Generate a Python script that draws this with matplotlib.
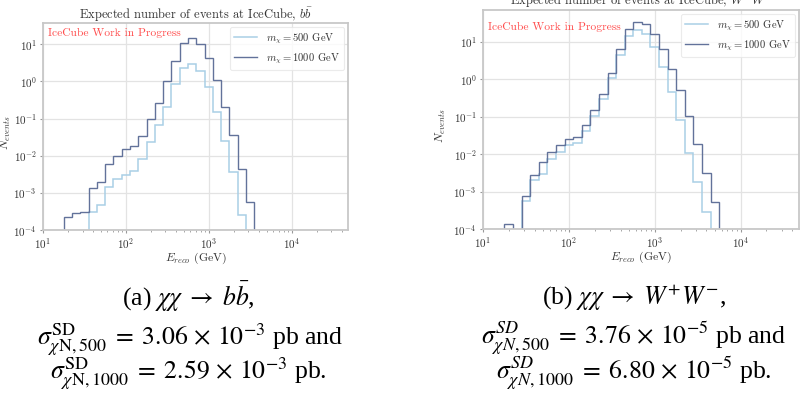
import numpy as np
import matplotlib
matplotlib.use("Agg")
import matplotlib.pyplot as plt

plt.rcParams['font.family'] = ['cmr10', 'DejaVu Serif']
plt.rcParams['mathtext.fontset'] = 'cm'
plt.rcParams['axes.formatter.use_mathtext'] = True
plt.rcParams['axes.unicode_minus'] = False

# log10 of the bin edges (0.1 decade bins)
edges_bb = 10 ** (1.25 + 0.1 * np.arange(24))
edges_ww = 10 ** (1.25 + 0.1 * np.arange(26))

# chi chi -> b bbar
bb_1000 = [2.3e-4, 2.9e-4, 3.1e-4, 1.35e-3, 1.95e-3, 6.0e-3, 1.0e-2, 1.5e-2,
           1.8e-2, 3.5e-2, 0.10, 0.27, 1.0, 3.6, 11, 14.8, 10.5, 4.2, 1.1,
           0.21, 0.036, 4.3e-3, 5.8e-4]
bb_500 = [3.0e-4, 4.8e-4, 1.45e-3, 2.3e-3, 3.1e-3, 4.0e-3, 8.0e-3, 2.3e-2,
          6.6e-2, 0.21, 0.83, 2.3, 3.0, 1.9, 0.69, 0.155, 0.025, 3.6e-3, 2.6e-4]
bb_500_first = 3  # first filled bin of the 500 GeV curve

# chi chi -> W+ W-
ww_1000_low = [1.4e-4]
ww_1000 = [7.8e-4, 2.7e-3, 6.0e-3, 1.15e-2, 1.7e-2, 2.5e-2, 2.9e-2, 5.8e-2,
           0.148, 0.41, 1.47, 6.5, 21.5, 34, 30, 16.3, 6.2, 1.87, 0.5, 0.106,
           1.9e-2, 3.2e-3, 5.3e-4]
ww_500 = [5.5e-4, 2.0e-3, 2.9e-3, 7.6e-3, 1.17e-2, 1.7e-2, 2.0e-2, 4.1e-2,
          0.105, 0.29, 1.05, 4.4, 14.5, 20.5, 16, 7.1, 2.1, 0.46, 0.083,
          0.011, 1.8e-3, 2.8e-4]
ww_first = 2

c_light = '#a9cfe6'
c_dark = '#62729a'
txt = '#333333'

fig = plt.figure(figsize=(8, 3.96), dpi=100)
ax1 = fig.add_axes([43 / 800, 1 - 230 / 396, 305 / 800, 207 / 396])
ax2 = fig.add_axes([483 / 800, 1 - 229 / 396, 316 / 800, 219 / 396])


def style(ax, ytop, ylab_x):
    ax.set_xscale('log')
    ax.set_yscale('log')
    ax.set_xlim(10, 10 ** 4.68)
    ax.set_ylim(1e-4, ytop)
    ax.grid(True, which='major', color='#e3e3e3', lw=0.9)
    ax.set_axisbelow(True)
    for s in ax.spines.values():
        s.set_color('#c8c8c8')
        s.set_linewidth(1.3)
    ax.tick_params(which='both', colors='#999999', labelcolor=txt, labelsize=8)
    ax.tick_params(which='major', length=2.5, width=0.8, pad=2)
    ax.tick_params(which='minor', length=1.5, width=0.6)
    ax.yaxis.set_minor_locator(matplotlib.ticker.NullLocator())
    ax.set_xlabel(r'$E_{reco}$ (GeV)', fontsize=8.5, color=txt, labelpad=-0.5)
    ax.set_ylabel(r'$N_{events}$', fontsize=8.5, color=txt)
    ax.yaxis.set_label_coords(ylab_x, 0.47)


style(ax1, 37.5, -0.098)
style(ax2, 70, -0.11)

ax1.stairs(bb_500, edges_bb[bb_500_first:bb_500_first + len(bb_500) + 1],
           baseline=1e-7, color=c_light, lw=1.1, label=r'$m_\chi = 500$ GeV')
ax1.stairs(bb_1000, edges_bb, baseline=1e-7, color=c_dark, lw=1.0,
           label=r'$m_\chi = 1000$ GeV')

ax2.stairs(ww_500, edges_ww[ww_first:ww_first + len(ww_500) + 1],
           baseline=1e-7, color=c_light, lw=1.1, label=r'$m_\chi = 500$ GeV')
ax2.stairs(ww_1000_low, edges_ww[:2], baseline=1e-7, color=c_dark, lw=1.0)
ax2.stairs(ww_1000, edges_ww[ww_first:ww_first + len(ww_1000) + 1],
           baseline=1e-7, color=c_dark, lw=1.0, label=r'$m_\chi = 1000$ GeV')

ax1.set_title(r'Expected number of events at IceCube, $b\bar{b}$',
              fontsize=9, color=txt, pad=0.5)
ax2.set_title(r'Expected number of events at IceCube, $W^{+}W^{-}$',
              fontsize=9, color=txt, pad=0.5)

for ax, ty in [(ax1, 0.975), (ax2, 0.945)]:
    ax.text(0.015, ty, 'IceCube Work in Progress', transform=ax.transAxes,
            color='#ff4d4d', fontsize=8.3, va='top', ha='left')
    leg = ax.legend(loc='upper right', fontsize=7.6, frameon=True,
                    borderaxespad=0.4, handlelength=2.2, labelspacing=0.5)
    leg.get_frame().set_edgecolor('#e6e6e6')
    leg.get_frame().set_linewidth(0.8)
    for t in leg.get_texts():
        t.set_color(txt)

cap = dict(ha='center', va='baseline', fontsize=18.5, family='Liberation Serif',
           math_fontfamily='stix', color='black')
fig.text(0.236, 1 - 306 / 396,
         r'(a) $\chi\chi \;\rightarrow\; b\bar{b}$,', **cap)
fig.text(0.238, 1 - 345 / 396,
         r'$\sigma^{\rm SD}_{\chi{\rm N},500} \;=\; 3.06 \,\times\, 10^{-3}$ pb and',
         **cap)
fig.text(0.236, 1 - 379 / 396,
         r'$\sigma^{\rm SD}_{\chi{\rm N},1000} \;=\; 2.59 \,\times\, 10^{-3}$ pb.',
         **cap)
fig.text(0.7925, 1 - 305 / 396,
         r'(b) $\chi\chi \;\rightarrow\; W^{+}W^{-}$,', **cap)
fig.text(0.7925, 1 - 344 / 396,
         r'$\sigma^{SD}_{\chi N,500} \;=\; 3.76 \,\times\, 10^{-5}$ pb and', **cap)
fig.text(0.7925, 1 - 379 / 396,
         r'$\sigma^{SD}_{\chi N,1000} \;=\; 6.80 \,\times\, 10^{-5}$ pb.', **cap)

fig.savefig('out.png', dpi=100)
